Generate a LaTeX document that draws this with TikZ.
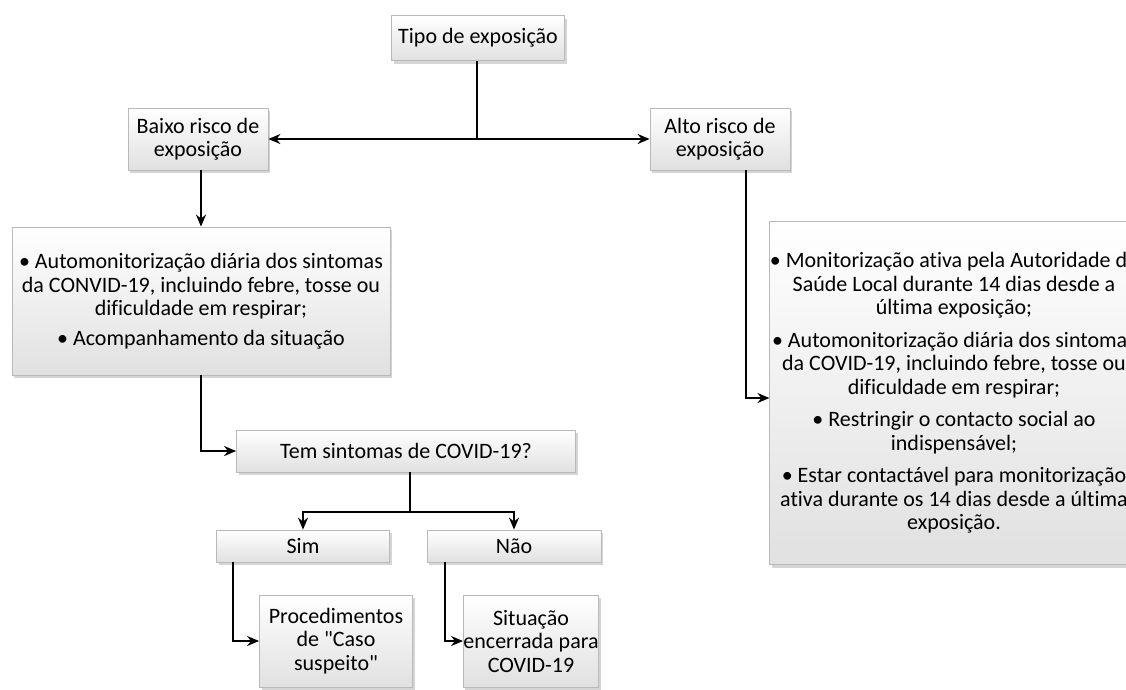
\documentclass[tikz,border=0pt]{standalone}
\usepackage{fontspec}
\newfontfamily\calfont{Carlito}[Ligatures=NoCommon]
\usetikzlibrary{arrows.meta,shadows,calc}
\begin{document}
\begin{tikzpicture}[x=1pt,y=-1pt,
  font=\calfont\fontsize{22}{23.5}\selectfont,
  box/.style={draw=gray!55, line width=0.8pt, top color=white, bottom color=gray!24,
    drop shadow={shadow xshift=2pt, shadow yshift=-3pt, fill=gray!60, opacity=0.55},
    align=center, inner sep=0pt},
  conn/.style={line width=1.8pt, black},
  arr/.style={conn, -{Stealth[length=12pt,width=10pt]}},
  darr/.style={conn, {Stealth[length=12pt,width=10pt]}-{Stealth[length=12pt,width=10pt]}}]
\useasboundingbox (0,0) rectangle (1126,689);
\clip (0,0) rectangle (1126,689);
\node[box, minimum width=173pt, minimum height=45pt] (top) at (478,38) {Tipo de exposição};
\node[box, minimum width=140pt, minimum height=62pt] (baixo) at (198,139) {Baixo risco de\\exposição};
\node[box, minimum width=140pt, minimum height=62pt] (alto) at (720,139) {Alto risco de\\exposição};
\node[box, minimum width=378pt, minimum height=148pt] (low) at (201,301)
  {• Automonitorização diária dos sintomas\\da CONVID-19, incluindo febre, tosse ou\\dificuldade em respirar;\\[6pt]• Acompanhamento da situação};
\node[box, minimum width=339pt, minimum height=42pt] (tem) at (406,451) {Tem sintomas de COVID-19?};
\node[box, minimum width=173pt, minimum height=32pt] (sim) at (303,546) {Sim};
\node[box, minimum width=174pt, minimum height=32pt] (nao) at (514,546) {Não};
\node[box, minimum width=153pt, minimum height=92pt] (proc) at (336,641) {Procedimentos\\de "Caso\\suspeito"};
\node[box, minimum width=123pt, minimum height=92pt] (sit) at (531,641) {Situação\\encerrada para\\COVID-19};
\node[box, minimum width=368pt, minimum height=343pt] (right) at (954,393)
  {• Monitorização ativa pela Autoridade de\\Saúde Local durante 14 dias desde a\\última exposição;\\[9pt]%
   • Automonitorização diária dos sintomas\\da COVID-19, incluindo febre, tosse ou\\dificuldade em respirar;\\[9pt]%
   • Restringir o contacto social ao\\indispensável;\\[9pt]%
   • Estar contactável para monitorização\\ativa durante os 14 dias desde a última\\exposição.};
\coordinate (j1) at (477,139);
\coordinate (j2) at (410,512);
\draw[conn] (top.south -| j1) -- (j1);
\draw[darr] (baixo.east) -- (alto.west);
\draw[arr] ([xshift=3pt]baixo.south) -- ([xshift=3pt]baixo.south |- low.north);
\draw[arr] (low.south) |- (tem.west);
\draw[conn] (tem.south -| j2) -- (j2);
\draw[arr] (j2) -| (sim.north);
\draw[arr] (j2) -| (nao.north);
\draw[arr] ([xshift=17pt]sim.south west) |- (proc.west);
\draw[arr] ([xshift=18pt]nao.south west) |- (sit.west);
\draw[arr] ([xshift=26pt]alto.south) |- ([yshift=-5pt]right.west);
\end{tikzpicture}
\end{document}
